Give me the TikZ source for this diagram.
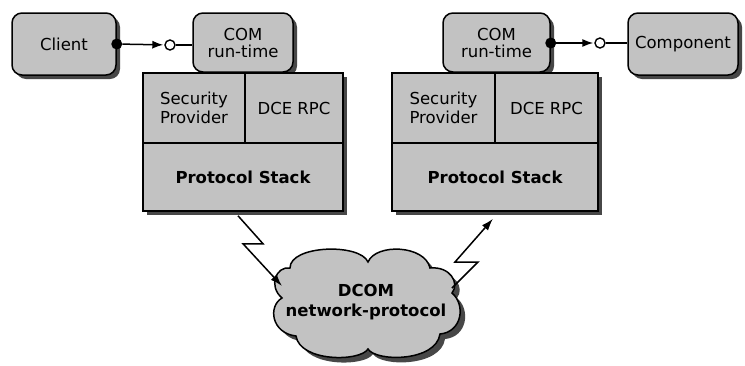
\documentclass[tikz,border=0pt]{standalone}
\usepackage{fontspec}
\setmainfont{DejaVu Sans}
\usetikzlibrary{shadows,arrows.meta}
\definecolor{boxgray}{gray}{0.76}
\definecolor{shadegray}{gray}{0.28}
\begin{document}
\begin{tikzpicture}[x=1pt,y=-1pt,
  base/.style={draw=black, line width=1.5pt, fill=boxgray,
    drop shadow={shadow xshift=4pt, shadow yshift=-4pt, fill=shadegray, opacity=1}},
  rbox/.style={base, rounded corners=10pt, inner sep=0pt, align=center,
    font=\fontsize{16.5}{17}\selectfont},
  cell/.style={base, rectangle, inner sep=0pt, align=center,
    font=\fontsize{16.5}{19}\selectfont},
  bcell/.style={cell, font=\fontsize{16.5}{19}\selectfont\bfseries},
  dot/.style={circle, fill=black, inner sep=0pt, minimum size=11pt},
  ring/.style={circle, draw=black, fill=white, line width=1.4pt, inner sep=0pt, minimum size=10pt},
  conn/.style={line width=1.5pt},
  bolt/.style={line width=1.5pt, -{Latex[length=12pt,width=8pt]}}
]
\useasboundingbox (0,0) rectangle (745,365);
\fill[white] (0,0) rectangle (745,365);

% left side
\node[rbox, minimum width=104pt, minimum height=62pt] (cl) at (64,44) {Client};
\node[rbox, minimum width=100pt, minimum height=59pt] (comL) at (243,42.5) {COM\\run-time};
\node[cell, minimum width=102pt, minimum height=70pt] (secL) at (194,108) {Security\\Provider};
\node[cell, minimum width=98pt, minimum height=70pt] (dceL) at (294,108) {DCE RPC};
\node[bcell, minimum width=200pt, minimum height=68pt] (protoL) at (243,177) {Protocol Stack};

\node[dot] (dotL) at (cl.east) {};
\node[ring] (ringL) at (170,45) {};
\draw[conn, -{Latex[length=11pt,width=8pt]}, shorten >=1pt] (dotL) -- (ringL);
\draw[conn] (ringL.east) -- (ringL.east -| comL.west);

% right side
\node[rbox, minimum width=107pt, minimum height=59pt] (comR) at (496.5,42.5) {COM\\run-time};
\node[cell, minimum width=103pt, minimum height=70pt] (secR) at (443.5,108) {Security\\Provider};
\node[cell, minimum width=103pt, minimum height=70pt] (dceR) at (546.5,108) {DCE RPC};
\node[bcell, minimum width=206pt, minimum height=68pt] (protoR) at (495,177) {Protocol Stack};
\node[rbox, minimum width=110pt, minimum height=62pt] (comp) at (683,44) {Component};

\node[dot] (dotR) at (comR.east |- 0,43) {};
\node[ring] (ringR) at (600,43) {};
\draw[conn, -{Latex[length=11pt,width=8pt]}, shorten >=1pt] (dotR) -- (ringR);
\draw[conn] (ringR.east) -- (ringR.east -| comp.west);

% cloud
\def\cloudpath{(290,268) .. controls (290,245) and (360,243) .. (368,262)
  .. controls (376,243) and (425,245) .. (430,268)
  .. controls (450,266) and (460,283) .. (452,293)
  .. controls (466,305) and (462,332) .. (440,334)
  .. controls (436,362) and (376,362) .. (368,349)
  .. controls (360,362) and (300,362) .. (296,336)
  .. controls (271,333) and (268,306) .. (282,298)
  .. controls (268,286) and (276,266) .. (290,268) -- cycle}
\fill[shadegray, shift={(5,5)}] \cloudpath;
\filldraw[fill=boxgray, draw=black, line width=1.5pt] \cloudpath;
\node[align=center, font=\fontsize{16.5}{20}\selectfont\bfseries] (cloud) at (366,302) {DCOM\\network-protocol};
\coordinate (cinL) at (282,286);
\coordinate (cinR) at (452,288);

% lightning connectors
\draw[bolt] ([shift={(-5,4)}]protoL.south) -- ++(25,28) -- ++(-20,0) -- (cinL);
\draw[bolt] (cinR) -- ++(26,-26) -- ++(-23,0) -- ([shift={(-2,7)}]protoR.south);
\end{tikzpicture}
\end{document}
